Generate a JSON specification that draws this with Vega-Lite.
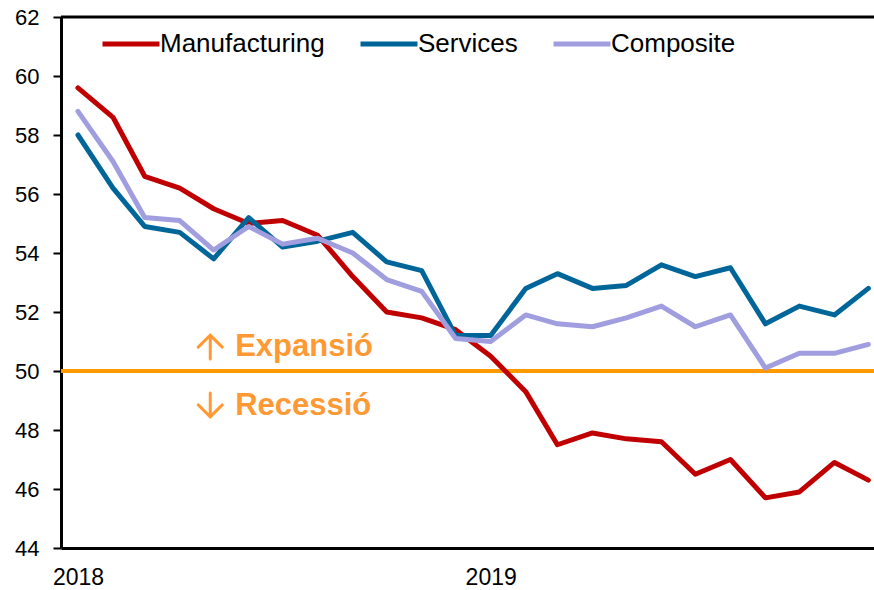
{
  "$schema": "https://vega.github.io/schema/vega-lite/v6.json",
  "width": 813,
  "height": 531,
  "autosize": "none",
  "padding": {"left": 61, "top": 17, "right": 0, "bottom": 42},
  "background": "white",
  "config": {
    "view": {"stroke": null},
    "font": "Liberation Sans"
  },
  "datasets": {
    "pmi": [
      {"date": "2018-01-01", "series": "Manufacturing", "value": 59.6},
      {"date": "2018-02-01", "series": "Manufacturing", "value": 58.6},
      {"date": "2018-03-01", "series": "Manufacturing", "value": 56.6},
      {"date": "2018-04-01", "series": "Manufacturing", "value": 56.2},
      {"date": "2018-05-01", "series": "Manufacturing", "value": 55.5},
      {"date": "2018-06-01", "series": "Manufacturing", "value": 55.0},
      {"date": "2018-07-01", "series": "Manufacturing", "value": 55.1},
      {"date": "2018-08-01", "series": "Manufacturing", "value": 54.6},
      {"date": "2018-09-01", "series": "Manufacturing", "value": 53.2},
      {"date": "2018-10-01", "series": "Manufacturing", "value": 52.0},
      {"date": "2018-11-01", "series": "Manufacturing", "value": 51.8},
      {"date": "2018-12-01", "series": "Manufacturing", "value": 51.4},
      {"date": "2019-01-01", "series": "Manufacturing", "value": 50.5},
      {"date": "2019-02-01", "series": "Manufacturing", "value": 49.3},
      {"date": "2019-03-01", "series": "Manufacturing", "value": 47.5},
      {"date": "2019-04-01", "series": "Manufacturing", "value": 47.9},
      {"date": "2019-05-01", "series": "Manufacturing", "value": 47.7},
      {"date": "2019-06-01", "series": "Manufacturing", "value": 47.6},
      {"date": "2019-07-01", "series": "Manufacturing", "value": 46.5},
      {"date": "2019-08-01", "series": "Manufacturing", "value": 47.0},
      {"date": "2019-09-01", "series": "Manufacturing", "value": 45.7},
      {"date": "2019-10-01", "series": "Manufacturing", "value": 45.9},
      {"date": "2019-11-01", "series": "Manufacturing", "value": 46.9},
      {"date": "2019-12-01", "series": "Manufacturing", "value": 46.3},
      {"date": "2018-01-01", "series": "Services", "value": 58.0},
      {"date": "2018-02-01", "series": "Services", "value": 56.2},
      {"date": "2018-03-01", "series": "Services", "value": 54.9},
      {"date": "2018-04-01", "series": "Services", "value": 54.7},
      {"date": "2018-05-01", "series": "Services", "value": 53.8},
      {"date": "2018-06-01", "series": "Services", "value": 55.2},
      {"date": "2018-07-01", "series": "Services", "value": 54.2},
      {"date": "2018-08-01", "series": "Services", "value": 54.4},
      {"date": "2018-09-01", "series": "Services", "value": 54.7},
      {"date": "2018-10-01", "series": "Services", "value": 53.7},
      {"date": "2018-11-01", "series": "Services", "value": 53.4},
      {"date": "2018-12-01", "series": "Services", "value": 51.2},
      {"date": "2019-01-01", "series": "Services", "value": 51.2},
      {"date": "2019-02-01", "series": "Services", "value": 52.8},
      {"date": "2019-03-01", "series": "Services", "value": 53.3},
      {"date": "2019-04-01", "series": "Services", "value": 52.8},
      {"date": "2019-05-01", "series": "Services", "value": 52.9},
      {"date": "2019-06-01", "series": "Services", "value": 53.6},
      {"date": "2019-07-01", "series": "Services", "value": 53.2},
      {"date": "2019-08-01", "series": "Services", "value": 53.5},
      {"date": "2019-09-01", "series": "Services", "value": 51.6},
      {"date": "2019-10-01", "series": "Services", "value": 52.2},
      {"date": "2019-11-01", "series": "Services", "value": 51.9},
      {"date": "2019-12-01", "series": "Services", "value": 52.8},
      {"date": "2018-01-01", "series": "Composite", "value": 58.8},
      {"date": "2018-02-01", "series": "Composite", "value": 57.1},
      {"date": "2018-03-01", "series": "Composite", "value": 55.2},
      {"date": "2018-04-01", "series": "Composite", "value": 55.1},
      {"date": "2018-05-01", "series": "Composite", "value": 54.1},
      {"date": "2018-06-01", "series": "Composite", "value": 54.9},
      {"date": "2018-07-01", "series": "Composite", "value": 54.3},
      {"date": "2018-08-01", "series": "Composite", "value": 54.5},
      {"date": "2018-09-01", "series": "Composite", "value": 54.0},
      {"date": "2018-10-01", "series": "Composite", "value": 53.1},
      {"date": "2018-11-01", "series": "Composite", "value": 52.7},
      {"date": "2018-12-01", "series": "Composite", "value": 51.1},
      {"date": "2019-01-01", "series": "Composite", "value": 51.0},
      {"date": "2019-02-01", "series": "Composite", "value": 51.9},
      {"date": "2019-03-01", "series": "Composite", "value": 51.6},
      {"date": "2019-04-01", "series": "Composite", "value": 51.5},
      {"date": "2019-05-01", "series": "Composite", "value": 51.8},
      {"date": "2019-06-01", "series": "Composite", "value": 52.2},
      {"date": "2019-07-01", "series": "Composite", "value": 51.5},
      {"date": "2019-08-01", "series": "Composite", "value": 51.9},
      {"date": "2019-09-01", "series": "Composite", "value": 50.1},
      {"date": "2019-10-01", "series": "Composite", "value": 50.6},
      {"date": "2019-11-01", "series": "Composite", "value": 50.6},
      {"date": "2019-12-01", "series": "Composite", "value": 50.9}
    ]
  },
  "layer": [
    {
      "data": {"values": [{}]},
      "mark": {"type": "rule", "color": "#FF9900", "strokeWidth": 4},
      "encoding": {"y": {"datum": 50, "type": "quantitative"}}
    },
    {
      "data": {"values": [{}]},
      "mark": {"type": "rule", "color": "black", "strokeWidth": 3},
      "encoding": {"y": {"datum": 62, "type": "quantitative"}}
    },
    {
      "data": {"name": "pmi"},
      "mark": {"type": "line", "strokeWidth": 5, "strokeJoin": "round", "strokeCap": "round"},
      "encoding": {
        "x": {
          "field": "date",
          "type": "temporal",
          "scale": {
            "type": "utc",
            "domain": [
              {"year": 2017, "month": 12, "date": 17, "utc": true},
              {"year": 2019, "month": 12, "date": 6, "utc": true}
            ]
          },
          "axis": {
            "title": null,
            "values": [
              {"year": 2018, "month": 1, "date": 1, "utc": true},
              {"year": 2019, "month": 1, "date": 1, "utc": true}
            ],
            "format": "%Y",
            "formatType": "utc",
            "grid": false,
            "ticks": false,
            "tickSize": 0,
            "domainColor": "black",
            "domainWidth": 3,
            "labelFontSize": 23,
            "labelColor": "black",
            "labelPadding": 18,
            "labelFlush": false,
            "labelOverlap": false
          }
        },
        "y": {
          "field": "value",
          "type": "quantitative",
          "scale": {"domain": [44, 62], "nice": false, "zero": false},
          "axis": {
            "title": null,
            "values": [44, 46, 48, 50, 52, 54, 56, 58, 60, 62],
            "grid": false,
            "domainColor": "black",
            "domainWidth": 3,
            "tickColor": "black",
            "tickWidth": 2,
            "tickSize": 8,
            "labelFontSize": 22,
            "labelColor": "black",
            "labelPadding": 14,
            "labelFlush": false,
            "labelOverlap": false
          }
        },
        "color": {
          "field": "series",
          "type": "nominal",
          "sort": ["Manufacturing", "Services", "Composite"],
          "scale": {
            "domain": ["Manufacturing", "Services", "Composite"],
            "range": ["#C00000", "#006699", "#A09EDE"]
          },
          "legend": {
            "title": null,
            "orient": "none",
            "direction": "horizontal",
            "legendX": 39,
            "legendY": -4,
            "symbolType": "stroke",
            "symbolSize": 3249,
            "symbolStrokeWidth": 5,
            "labelFontSize": 26,
            "labelLimit": 400,
            "labelColor": "black",
            "labelOffset": -2,
            "columnPadding": 25,
            "padding": 0
          }
        },
        "order": {"field": "date", "type": "temporal"}
      }
    },
    {
      "data": {"values": [{}]},
      "mark": {"type": "point", "shape": "M0,1L0,-1M-1,0L0,-1L1,0", "filled": false, "size": 576, "stroke": "#FF9933", "strokeWidth": 3, "strokeCap": "round", "opacity": 1},
      "encoding": {
        "x": {"datum": {"year": 2018, "month": 4, "date": 28, "utc": true}, "type": "temporal"},
        "y": {"datum": 50.81, "type": "quantitative"}
      }
    },
    {
      "data": {"values": [{}]},
      "mark": {"type": "text", "text": "Expansió", "align": "left", "baseline": "alphabetic", "fontSize": 31, "fontWeight": "bold", "color": "#FF9933"},
      "encoding": {
        "x": {"datum": {"year": 2018, "month": 5, "date": 20, "utc": true}, "type": "temporal"},
        "y": {"datum": 50.5, "type": "quantitative"}
      }
    },
    {
      "data": {"values": [{}]},
      "mark": {"type": "point", "shape": "M0,-1L0,1M-1,0L0,1L1,0", "filled": false, "size": 576, "stroke": "#FF9933", "strokeWidth": 3, "strokeCap": "round", "opacity": 1},
      "encoding": {
        "x": {"datum": {"year": 2018, "month": 4, "date": 28, "utc": true}, "type": "temporal"},
        "y": {"datum": 48.85, "type": "quantitative"}
      }
    },
    {
      "data": {"values": [{}]},
      "mark": {"type": "text", "text": "Recessió", "align": "left", "baseline": "alphabetic", "fontSize": 31, "fontWeight": "bold", "color": "#FF9933"},
      "encoding": {
        "x": {"datum": {"year": 2018, "month": 5, "date": 20, "utc": true}, "type": "temporal"},
        "y": {"datum": 48.5, "type": "quantitative"}
      }
    }
  ]
}
